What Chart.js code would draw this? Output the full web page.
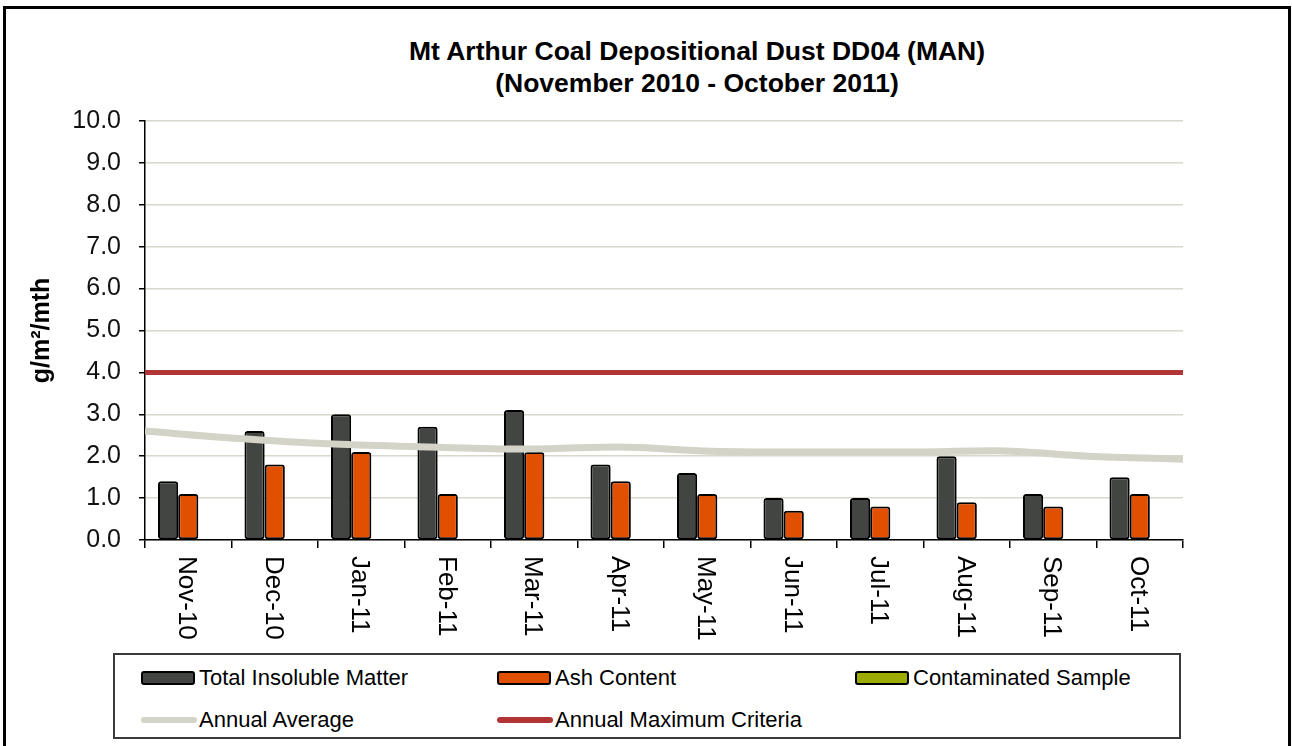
<!DOCTYPE html>
<html lang="en">
<head>
    <meta charset="UTF-8">
    <title>Mt Arthur Coal Depositional Dust DD04 (MAN)</title>
    <script src="https://cdn.jsdelivr.net/npm/chart.js@4/dist/chart.umd.min.js"></script>
    <style>
        body {
            margin: 0;
            width: 1292px;
            height: 746px;
            overflow: hidden;
            background: #fff;
            font-family: "Liberation Sans", Arial, sans-serif;
        }
        #frame {
            position: absolute;
            left: 3px;
            top: 6px;
            width: 1282px;
            height: 780px;
            border: 3px solid #000;
            pointer-events: none;
        }
        #title {
            position: absolute;
            left: 400px;
            width: 594px;
            top: 35px;
            text-align: center;
            font-weight: bold;
            font-size: 26.5px;
            line-height: 32px;
            color: #000;
        }
        #chart {
            position: absolute;
            left: 0;
            top: 0;
        }
        #legend {
            position: absolute;
            left: 113px;
            top: 653px;
            width: 1064px;
            height: 82px;
            border: 2px solid #3a3a3a;
            background: #fff;
        }
        .item {
            position: absolute;
            height: 30px;
            display: flex;
            align-items: center;
            font-size: 22px;
            color: #000;
            white-space: nowrap;
        }
        .box {
            width: 50px;
            height: 10px;
            border: 2px solid #000;
            border-radius: 3px;
            margin-right: 4px;
        }
        .line {
            width: 56px;
            height: 6px;
            border-radius: 3px;
            margin-right: 2px;
        }
    </style>
</head>
<body>
    <div id="title">Mt Arthur Coal Depositional Dust DD04 (MAN)<br>(November 2010 - October 2011)</div>
    <canvas id="chart" width="1292" height="746"></canvas>
    <div id="legend"></div>
    <div id="frame"></div>

    <script>
        const months = ['Nov-10', 'Dec-10', 'Jan-11', 'Feb-11', 'Mar-11', 'Apr-11',
                        'May-11', 'Jun-11', 'Jul-11', 'Aug-11', 'Sep-11', 'Oct-11'];
        const totalInsoluble = [1.4, 2.6, 3.0, 2.7, 3.1, 1.8, 1.6, 1.0, 1.0, 2.0, 1.1, 1.5];
        const ashContent = [1.1, 1.8, 2.1, 1.1, 2.1, 1.4, 1.1, 0.7, 0.8, 0.9, 0.8, 1.1];
        const contaminated = [null, null, null, null, null, null, null, null, null, null, null, null];
        const annualAverage = [2.6, 2.42, 2.29, 2.22, 2.17, 2.22, 2.12, 2.1, 2.1, 2.13, 2.0, 1.93];
        const maxCriteria = [4.0, 4.0, 4.0, 4.0, 4.0, 4.0, 4.0, 4.0, 4.0, 4.0, 4.0, 4.0];
        const yTicks = [0, 1, 2, 3, 4, 5, 6, 7, 8, 9, 10];

        const font = '"Liberation Sans", Arial, sans-serif';
        const n = months.length;

        // bars sit on the month index; the two lines run edge to edge
        // like a secondary axis set "on tick marks"
        const onMonths = vals => vals.map((v, i) => ({ x: i, y: v }));
        const edgeToEdge = vals => vals.map((v, i) => ({ x: -0.5 + i * n / (vals.length - 1), y: v }));
        const monthEdges = months.map((m, i) => i - 0.5).concat(n - 0.5);

        // month labels read top to bottom, which the built-in rotation can't do
        const monthLabels = {
            id: 'monthLabels',
            afterDraw(chart) {
                const ctx = chart.ctx;
                const x = chart.scales.x;
                ctx.save();
                ctx.font = '26px ' + font;
                ctx.fillStyle = '#000';
                ctx.textAlign = 'left';
                ctx.textBaseline = 'middle';
                months.forEach((m, i) => {
                    ctx.save();
                    ctx.translate(x.getPixelForValue(i) - 2, x.top + 16);
                    ctx.rotate(Math.PI / 2);
                    ctx.fillText(m, 0, 0);
                    ctx.restore();
                });
                ctx.restore();
            }
        };

        const barStyle = {
            type: 'bar',
            borderColor: '#000',
            borderWidth: 2,
            borderRadius: 3,
            borderSkipped: false,
            order: 2
        };

        const chart = new Chart(document.getElementById('chart'), {
            data: {
                datasets: [{
                    ...barStyle,
                    label: 'Total Insoluble Matter',
                    data: onMonths(totalInsoluble),
                    backgroundColor: '#424542'
                }, {
                    ...barStyle,
                    label: 'Ash Content',
                    data: onMonths(ashContent),
                    backgroundColor: '#e05000'
                }, {
                    ...barStyle,
                    label: 'Contaminated Sample',
                    data: onMonths(contaminated),
                    backgroundColor: '#9bab00'
                }, {
                    type: 'line',
                    label: 'Annual Average',
                    data: edgeToEdge(annualAverage),
                    borderColor: '#d3d3c7',
                    borderWidth: 7,
                    pointRadius: 0,
                    cubicInterpolationMode: 'monotone',
                    order: 1
                }, {
                    type: 'line',
                    label: 'Annual Maximum Criteria',
                    data: edgeToEdge(maxCriteria),
                    borderColor: '#b23535',
                    borderWidth: 5,
                    pointRadius: 0,
                    order: 0
                }]
            },
            options: {
                responsive: false,
                animation: false,
                layout: {
                    padding: { left: 20, right: 109, top: 121, bottom: 0 }
                },
                datasets: {
                    bar: { barPercentage: 1, categoryPercentage: 0.7 }
                },
                plugins: {
                    legend: { display: false },
                    tooltip: { enabled: false }
                },
                scales: {
                    x: {
                        type: 'linear',
                        min: -0.5,
                        max: n - 0.5,
                        offset: false,
                        afterFit(s) { s.height = 206; },
                        afterBuildTicks(s) { s.ticks = monthEdges.map(v => ({ value: v })); },
                        ticks: { display: false },
                        grid: {
                            offset: false,
                            drawOnChartArea: false,
                            tickLength: 8,
                            tickColor: '#000',
                            lineWidth: 1.5
                        },
                        border: { color: '#000', width: 1.5 }
                    },
                    y: {
                        min: 0,
                        max: 10,
                        afterFit(s) { s.width = 125; },
                        afterBuildTicks(s) { s.ticks = yTicks.map(v => ({ value: v })); },
                        ticks: {
                            padding: 18,
                            color: '#111',
                            font: { family: font, size: 25 },
                            callback: v => v.toFixed(1)
                        },
                        grid: {
                            color: '#d8d8cc',
                            lineWidth: 1.5,
                            tickLength: 6,
                            tickColor: '#000'
                        },
                        border: { color: '#000', width: 1.5 },
                        title: {
                            display: true,
                            text: 'g/m²/mth',
                            color: '#000',
                            font: { family: font, size: 25, weight: 'bold' },
                            padding: { top: 7, bottom: 0 }
                        }
                    }
                }
            },
            plugins: [monthLabels]
        });

        // legend box laid out like the original: three columns, two rows
        const legendCols = [26, 382, 740];
        const legendRows = [8, 50];
        const legend = document.getElementById('legend');
        chart.data.datasets.forEach((ds, i) => {
            const item = document.createElement('div');
            item.className = 'item';
            item.style.left = legendCols[i % 3] + 'px';
            item.style.top = legendRows[Math.floor(i / 3)] + 'px';
            const mark = document.createElement('span');
            if (ds.type === 'bar') {
                mark.className = 'box';
                mark.style.background = ds.backgroundColor;
            } else {
                mark.className = 'line';
                mark.style.background = ds.borderColor;
            }
            item.appendChild(mark);
            item.appendChild(document.createTextNode(ds.label));
            legend.appendChild(item);
        });
    </script>
</body>
</html>
